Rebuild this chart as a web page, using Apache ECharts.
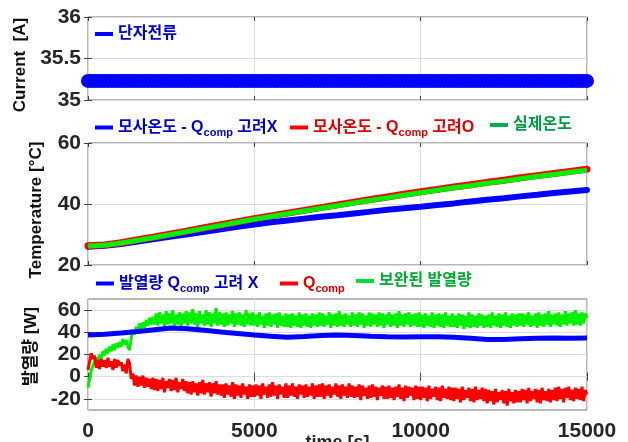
<!DOCTYPE html>
<html><head><meta charset="utf-8">
<script src="https://cdn.jsdelivr.net/npm/echarts@6/dist/echarts.min.js"></script>
<style>html,body{margin:0;padding:0;background:#fff}#c{width:628px;height:442px}</style>
</head><body><div id="c"></div>
<script>
// ---- data ----
const xTicks = [0, 5000, 10000, 15000];
const time50  = Array.from({length: 301}, (_, i) => i * 50);    // sample grid (s)
const time100 = Array.from({length: 151}, (_, i) => i * 100);   // sample grid (s)
const time500 = Array.from({length: 31}, (_, i) => i * 500);    // sample grid (s)

const currentA = [
 35.23,35.23,35.23,35.23,35.23,35.23,35.23,35.23,35.23,35.23,
 35.23,35.23,35.23,35.23,35.23,35.23,35.23,35.23,35.23,35.23,
 35.23,35.23,35.23,35.23,35.23,35.23,35.23,35.23,35.23,35.23,
 35.23,35.23,35.23,35.23,35.23,35.23,35.23,35.23,35.23,35.23,
 35.23,35.23,35.23,35.23,35.23,35.23,35.23,35.23,35.23,35.23,
 35.23,35.23,35.23,35.23,35.23,35.23,35.23,35.23,35.23,35.23,
 35.23,35.23,35.23,35.23,35.23,35.23,35.23,35.23,35.23,35.23,
 35.23,35.23,35.23,35.23,35.23,35.23,35.23,35.23,35.23,35.23,
 35.23,35.23,35.23,35.23,35.23,35.23,35.23,35.23,35.23,35.23,
 35.23,35.23,35.23,35.23,35.23,35.23,35.23,35.23,35.23,35.23,
 35.23,35.23,35.23,35.23,35.23,35.23,35.23,35.23,35.23,35.23,
 35.23,35.23,35.23,35.23,35.23,35.23,35.23,35.23,35.23,35.23,
 35.23,35.23,35.23,35.23,35.23,35.23,35.23,35.23,35.23,35.23,
 35.23,35.23,35.23,35.23,35.23,35.23,35.23,35.23,35.23,35.23,
 35.23,35.23,35.23,35.23,35.23,35.23,35.23,35.23,35.23,35.23,35.23];

const tempNoComp = [26.0,26.3,26.9,27.7,28.5,29.3,30.1,30.9,31.7,32.5,33.3,34.0,34.6,35.2,35.8,36.3,36.9,37.5,38.1,38.6,39.1,39.7,40.2,40.8,41.4,41.9,42.5,43.0,43.6,44.1,44.6];
const tempComp   = [26.3,26.6,27.3,28.3,29.2,30.2,31.2,32.2,33.2,34.2,35.2,36.1,37.0,37.9,38.8,39.7,40.6,41.5,42.3,43.2,44.0,44.8,45.6,46.3,47.1,47.8,48.6,49.3,50.0,50.7,51.4];
const tempReal   = [26.2,26.5,27.2,28.1,29.0,30.0,31.0,32.0,33.0,34.0,35.0,35.9,36.8,37.7,38.6,39.4,40.3,41.2,42.0,42.9,43.7,44.5,45.3,46.0,46.8,47.5,48.3,49.0,49.7,50.4,51.1];

const heatNoComp = [37.5,38.2,39.3,40.8,42.3,43.8,43.2,41.8,40.3,39.0,37.6,36.4,35.6,36.2,37.2,37.6,37.1,36.4,35.9,35.8,36.0,36.1,35.6,34.6,33.6,33.5,34.1,34.6,34.8,34.7,34.9];
const qComp = [
 6,14,21,16,19,8,15,7,16,9,15,8,17,9,14,6,16,8,15,10,
 13,5,11,3,16,12,-2,3,-8,1,-9,0,-8,1,-10,-1,-9,-2,-11,-1,
 -12,-2,-13,-3,-11,-1,-14,-4,-10,-2,-13,-3,-12,-1,-14,-5,-11,-2,-13,-4,
 -15,-5,-16,-4,-14,-6,-17,-5,-15,-3,-16,-6,-14,-5,-18,-6,-15,-4,-16,-7,
 -17,-7,-19,-6,-16,-8,-18,-5,-20,-7,-17,-8,-19,-6,-16,-9,-20,-7,-18,-8,
 -18,-7,-17,-8,-20,-6,-16,-9,-19,-7,-18,-5,-17,-8,-20,-7,-16,-9,-19,-6,
 -19,-8,-17,-6,-18,-9,-20,-7,-16,-8,-19,-7,-18,-9,-17,-6,-20,-8,-18,-7,
 -18,-6,-20,-8,-17,-7,-19,-9,-16,-6,-18,-8,-20,-7,-17,-9,-19,-6,-18,-8,
 -19,-9,-18,-7,-21,-8,-17,-10,-20,-8,-19,-7,-18,-9,-21,-10,-17,-8,-20,-9,
 -20,-8,-19,-10,-21,-9,-18,-7,-20,-10,-22,-8,-19,-9,-17,-10,-21,-8,-20,-9,
 -21,-9,-19,-10,-22,-8,-20,-11,-18,-9,-21,-10,-22,-8,-19,-11,-20,-9,-21,-10,
 -22,-10,-20,-11,-23,-9,-21,-12,-19,-10,-22,-11,-23,-9,-21,-12,-20,-10,-22,-11,
 -24,-12,-22,-13,-25,-11,-23,-14,-21,-12,-24,-13,-26,-11,-22,-14,-24,-12,-23,-13,
 -23,-11,-21,-12,-24,-10,-22,-13,-20,-11,-23,-12,-24,-10,-21,-13,-22,-11,-23,-12,
 -21,-10,-22,-9,-20,-11,-23,-10,-19,-9,-21,-12,-22,-10,-20,-11,-21,-9,-22,-12,
 -16];
const heatComp = [
 -10,-2,6,10,14,17,13,20,16,23,19,25,21,27,23,29,24,30,26,31,
 27,34,29,33,27,24,35,42,38,45,41,48,43,49,44,51,46,53,47,54,
 47,57,46,58,48,56,45,59,47,57,48,60,46,56,47,58,45,57,48,59,
 46,58,48,61,47,57,45,59,48,56,46,60,47,58,45,57,48,62,46,58,
 47,57,45,58,46,56,48,59,45,57,47,58,46,56,45,60,47,57,46,58,
 46,56,45,58,47,55,44,57,46,58,45,56,47,57,44,58,46,55,45,57,
 45,56,44,57,46,55,45,58,44,56,46,57,45,55,44,57,46,56,45,58,
 46,57,45,55,47,58,44,56,46,57,45,59,46,56,45,57,47,55,45,58,
 46,56,45,58,47,57,44,55,46,58,45,57,47,56,45,58,46,57,44,56,
 47,58,45,56,46,57,44,59,46,56,45,57,47,58,45,56,46,57,45,58,
 45,56,44,57,46,55,45,58,44,56,46,57,45,56,44,58,46,55,45,57,
 45,55,44,57,46,56,43,55,45,58,44,56,45,55,44,57,46,56,44,55,
 45,56,44,58,46,55,45,57,44,56,46,58,45,55,44,57,46,56,45,57,
 46,57,45,56,47,58,45,55,46,57,44,58,46,56,45,57,47,59,45,56,
 47,57,46,58,45,56,47,59,46,57,48,58,46,60,47,57,46,58,48,57,
 53];

const heatTicks = [-20, 0, 20, 40, 60];

// ---- build ----
const pairs = (xs, ys) => xs.map((x, i) => [x, ys[i]]);
const FT = "'Liberation Sans',Arial,sans-serif";
const FX = "'Liberation Sans','Noto Sans CJK KR',sans-serif";
const tickLbl = {color: '#262626', fontFamily: FT, fontWeight: 'bold', fontSize: 21, lineHeight: 18, hideOverlap: false};
const tick = {show: true, inside: true, length: 4, lineStyle: {color: '#404040'}};
const split = {show: true, lineStyle: {color: '#dcdcdc', width: 1}};
const gb = {left: 88, width: 499, show: true, borderColor: '#707070', borderWidth: 1, backgroundColor: '#fff', containLabel: false, outerBoundsMode: 'none'};

function xA(gi, pos, lbl) {
  return {type: 'value', gridIndex: gi, position: pos, min: 0, max: 15000, interval: 5000,
    axisLine: {show: false}, axisTick: tick,
    axisLabel: lbl ? Object.assign({show: true, margin: 12, formatter: v => String(v)}, tickLbl) : {show: false},
    splitLine: pos === 'bottom' ? split : {show: false},
    name: lbl ? 'time [s]' : '', nameLocation: 'middle', nameGap: 24, nameMoveOverlap: false,
    nameTextStyle: {color: '#262626', fontFamily: FT, fontWeight: 'bold', fontSize: 18, verticalAlign: 'top'}};
}
function yA(gi, pos, o, name, pad) {
  const a = Object.assign({type: 'value', gridIndex: gi, position: pos,
    axisLine: {show: false}, axisTick: Object.assign({}, tick),
    axisLabel: pos === 'left' ? Object.assign({show: true, margin: 7}, tickLbl) : {show: false},
    splitLine: pos === 'left' ? split : {show: false},
    name: pos === 'left' ? name : '', nameLocation: 'middle', nameGap: 43,
    nameTextStyle: {color: '#111', fontFamily: FX, fontWeight: 'bold', fontSize: 17, padding: pad || 0}}, o);
  return a;
}
const yCur = {min: 35, max: 36, interval: 0.5};
const yTmp = {min: 20, max: 60, interval: 20};
const yHeat = {min: -30, max: 70};

function heatAxis(pos) {
  const a = yA(2, pos, yHeat, '발열량 [W]', [0, 0, 0, 16]);
  a.axisTick.customValues = heatTicks;
  if (pos === 'left') a.axisLabel.customValues = heatTicks;
  return a;
}

function legend(left, top, name, icon, rich, fmt) {
  return {left: left, top: top, padding: 0, orient: 'horizontal', icon: 'rect', itemWidth: 18, itemHeight: 4,
    itemTextGap: 6, selectedMode: false,
    data: [{name: name, itemStyle: {color: icon}}],
    formatter: fmt, textStyle: {rich: rich}};
}
function rich(color) {
  return {t: {color: color, fontFamily: FX, fontWeight: 'bold', fontSize: 16, lineHeight: 20},
          s: {color: color, fontFamily: FX, fontWeight: 'bold', fontSize: 11, lineHeight: 20, padding: [10, 0, 0, 0]}};
}

const chart = echarts.init(document.getElementById('c'), null, {renderer: 'canvas'});
chart.setOption({
  animation: false,
  backgroundColor: '#fff',
  grid: [Object.assign({top: 17, height: 83}, gb), Object.assign({top: 143, height: 122}, gb), Object.assign({top: 299, height: 111}, gb)],
  xAxis: [xA(0, 'bottom', false), xA(1, 'bottom', false), xA(2, 'bottom', true), xA(0, 'top', false), xA(1, 'top', false), xA(2, 'top', false)],
  yAxis: [yA(0, 'left', yCur, 'Current  [A]', [0, 13, 0, 0]), yA(1, 'left', yTmp, 'Temperature [°C]', [0, 12, 0, 0]), heatAxis('left'),
          yA(0, 'right', yCur), yA(1, 'right', yTmp), heatAxis('right')],
  legend: [
    legend(95, 26, '단자전류', '#0000ff', rich('#0000cc'), () => '{t|단자전류}'),
    legend(95, 117, '모사온도 - Qcomp 고려X', '#0000ff', rich('#0000cc'), () => '{t|모사온도 - Q}{s|comp}{t| 고려X}'),
    legend(290, 117, '모사온도 - Qcomp 고려O', '#ff0000', rich('#dd0000'), () => '{t|모사온도 - Q}{s|comp}{t| 고려O}'),
    legend(490, 117, '실제온도', '#00b050', rich('#009944'), () => '{t|실제온도}'),
    legend(96, 273, '발열량 Qcomp 고려 X', '#0000ff', rich('#0000cc'), () => '{t|발열량 Q}{s|comp}{t| 고려 X}'),
    legend(280, 273, 'Qcomp', '#ff0000', rich('#dd0000'), () => '{t|Q}{s|comp}'),
    legend(356, 273, '보완된 발열량', '#00dd33', rich('#00aa33'), () => '{t|보완된 발열량}')
  ],
  series: [
    {name: '단자전류', type: 'line', xAxisIndex: 0, yAxisIndex: 0, data: pairs(time100, currentA),
     color: '#0000ff', symbol: 'circle', symbolSize: 14, showSymbol: true, showAllSymbol: true, clip: false,
     lineStyle: {width: 4, color: '#0000ff'}, itemStyle: {color: '#0000ff'}},
    {name: '모사온도 - Qcomp 고려X', type: 'line', xAxisIndex: 1, yAxisIndex: 1, data: pairs(time500, tempNoComp),
     showSymbol: false, color: '#0000ff', lineStyle: {width: 6, color: '#0000ff', cap: 'round'}},
    {name: '모사온도 - Qcomp 고려O', type: 'line', xAxisIndex: 1, yAxisIndex: 1, data: pairs(time500, tempComp),
     showSymbol: false, clip: false, color: '#ff0000', lineStyle: {width: 7, color: '#ff0000', cap: 'round'}},
    {name: '실제온도', type: 'line', xAxisIndex: 1, yAxisIndex: 1, data: pairs(time500, tempReal),
     showSymbol: false, color: '#00f000', lineStyle: {width: 5, color: '#00f000'}},
    {name: '보완된 발열량', type: 'line', xAxisIndex: 2, yAxisIndex: 2, data: pairs(time50, heatComp),
     showSymbol: false, color: '#00f000', lineStyle: {width: 3, color: '#00f000'}},
    {name: 'Qcomp', type: 'line', xAxisIndex: 2, yAxisIndex: 2, data: pairs(time50, qComp),
     showSymbol: false, color: '#ff0000', lineStyle: {width: 3, color: '#ff0000'}},
    {name: '발열량 Qcomp 고려 X', type: 'line', xAxisIndex: 2, yAxisIndex: 2, data: pairs(time500, heatNoComp),
     showSymbol: false, color: '#0000ff', lineStyle: {width: 5, color: '#0000ff'}}
  ]
});
</script></body></html>
